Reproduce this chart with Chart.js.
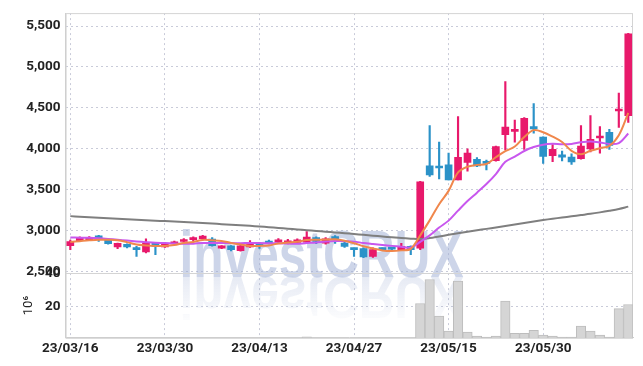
<!DOCTYPE html>
<html>
<head>
<meta charset="utf-8">
<script src="https://cdn.jsdelivr.net/npm/chart.js@4.4.0/dist/chart.umd.min.js"></script>
<style>
  html, body { margin: 0; padding: 0; background: #fff; }
  #wrap { width: 643px; height: 366px; }
</style>
</head>
<body>
<div id="wrap"><canvas id="myChart" width="643" height="366"></canvas></div>
<script>
// trading days shown on the chart
const dates = [
  '23/03/16', '23/03/17', '23/03/20', '23/03/21', '23/03/22', '23/03/23', '23/03/24', '23/03/27', '23/03/28', '23/03/29',
  '23/03/30', '23/03/31', '23/04/03', '23/04/04', '23/04/05', '23/04/06', '23/04/07', '23/04/10', '23/04/11', '23/04/12',
  '23/04/13', '23/04/14', '23/04/17', '23/04/18', '23/04/19', '23/04/20', '23/04/21', '23/04/24', '23/04/25', '23/04/26',
  '23/04/27', '23/04/28', '23/05/02', '23/05/03', '23/05/04', '23/05/08', '23/05/09', '23/05/10', '23/05/11', '23/05/12',
  '23/05/15', '23/05/16', '23/05/17', '23/05/18', '23/05/19', '23/05/22', '23/05/23', '23/05/24', '23/05/25', '23/05/26',
  '23/05/30', '23/05/31', '23/06/01', '23/06/02', '23/06/05', '23/06/07', '23/06/08', '23/06/09', '23/06/12', '23/06/13'
];

const opens = [
  2812, 2873, 2880, 2934, 2885, 2796, 2828, 2783, 2735, 2844,
  2796, 2836, 2864, 2885, 2897, 2893, 2783, 2812, 2752, 2796,
  2836, 2864, 2856, 2844, 2852, 2856, 2913, 2844, 2925, 2844,
  2776, 2776, 2682, 2776, 2776, 2764, 2805, 2783, 3790, 3770,
  3803, 3617, 3832, 3868, 3832, 3852, 4171, 4210, 4100, 4270,
  4140, 3913, 3925, 3897, 3877, 3997, 4130, 4200, 4460, 4403
];
const highs = [
  2880, 2920, 2925, 2940, 2895, 2845, 2835, 2805, 2896, 2850,
  2840, 2870, 2900, 2922, 2940, 2910, 2815, 2815, 2820, 2875,
  2852, 2880, 2900, 2890, 2895, 2985, 2920, 2910, 2935, 2855,
  2783, 2785, 2785, 2785, 2785, 2840, 2810, 3600, 4282, 4080,
  3945, 4391, 3997, 3890, 3860, 4030, 4820, 4350, 4380, 4552,
  4145, 4050, 3970, 3937, 4282, 4403, 4270, 4235, 4680, 5410
];
const lows = [
  2764, 2865, 2875, 2864, 2830, 2775, 2785, 2682, 2723, 2703,
  2790, 2830, 2855, 2875, 2885, 2805, 2775, 2747, 2745, 2790,
  2780, 2835, 2845, 2835, 2845, 2850, 2836, 2830, 2840, 2790,
  2682, 2665, 2670, 2755, 2755, 2755, 2703, 2764, 3661, 3628,
  3617, 3617, 3723, 3780, 3740, 3845, 3985, 4080, 3990, 4190,
  3820, 3840, 3848, 3808, 3870, 3960, 3945, 3990, 4260, 4320
];
const closes = [
  2864, 2913, 2913, 2893, 2836, 2840, 2796, 2764, 2844, 2804,
  2836, 2852, 2885, 2913, 2929, 2812, 2812, 2764, 2812, 2844,
  2816, 2844, 2885, 2873, 2885, 2917, 2864, 2897, 2885, 2804,
  2764, 2674, 2764, 2764, 2770, 2805, 2764, 3593, 3677, 3763,
  3617, 3892, 3945, 3787, 3820, 4026, 4262, 4230, 4370, 4240,
  3905, 3990, 3895, 3836, 4030, 4115, 4150, 4038, 4480, 5403
];

// moving average lines
const ma5 = [
  2858, 2868, 2878, 2885, 2884, 2879, 2856, 2826, 2816, 2810,
  2809, 2820, 2844, 2858, 2883, 2878, 2870, 2846, 2826, 2809,
  2810, 2816, 2840, 2852, 2861, 2881, 2885, 2887, 2890, 2873,
  2843, 2805, 2778, 2754, 2747, 2755, 2773, 2939, 3122, 3320,
  3483, 3708, 3779, 3801, 3812, 3894, 3968, 4025, 4142, 4226,
  4201, 4147, 4080, 3973, 3931, 3973, 4005, 4034, 4163, 4437
];
const ma10 = [
  2912, 2910, 2908, 2903, 2895, 2885, 2875, 2865, 2855, 2847,
  2844, 2838, 2835, 2837, 2846, 2844, 2845, 2845, 2842, 2846,
  2844, 2843, 2843, 2839, 2835, 2845, 2850, 2864, 2871, 2867,
  2862, 2845, 2833, 2822, 2810, 2799, 2789, 2859, 2938, 3034,
  3119, 3241, 3359, 3461, 3566, 3688, 3838, 3902, 3971, 4019,
  4048, 4058, 4053, 4057, 4078, 4087, 4076, 4057, 4068, 4184
];
const ma60 = [
  3174, 3167, 3160, 3153, 3147, 3141, 3135, 3129, 3123, 3118,
  3113, 3107, 3101, 3095, 3089, 3083, 3076, 3069, 3062, 3055,
  3047, 3038, 3029, 3020, 3011, 3002, 2993, 2984, 2975, 2965,
  2955, 2945, 2935, 2925, 2915, 2905, 2898, 2893, 2905, 2925,
  2945, 2964, 2982, 3000, 3018, 3036, 3054, 3072, 3090, 3108,
  3126, 3142, 3157, 3172, 3187, 3202, 3220, 3240, 3262, 3290
];

// volume in millions
const volume = [
  1.2, 0.9, 0.8, 0.9, 0.7, 0.8, 0.7, 1.0, 1.1, 0.9,
  0.7, 0.8, 0.9, 1.0, 1.1, 1.3, 0.8, 0.9, 0.8, 1.0,
  0.8, 0.7, 0.9, 0.8, 0.9, 2.2, 1.1, 1.0, 1.2, 0.9,
  1.0, 1.4, 1.1, 0.8, 0.7, 0.9, 1.0, 22.0, 36.3, 14.5,
  5.6, 35.3, 5.0, 2.6, 2.0, 2.6, 23.4, 4.2, 4.2, 6.0,
  3.2, 2.6, 2.0, 2.0, 8.5, 5.6, 3.2, 2.0, 19.0, 21.4
];

const priceTicks = [2500, 3000, 3500, 4000, 4500, 5000, 5500];
const volumeTicks = [20, 40];
const wmText = 'investCRUX';

const upColor = '#e8196b';
const downColor = '#2b92c8';
const candleColors = closes.map((c, i) => c >= opens[i] ? upColor : downColor);

const tickFont = { family: 'Roboto, sans-serif', size: 13.5, weight: 'bold' };
const gridColor = '#c9cbd9';

// big faint logo with its mirror image under it
const watermark = {
  id: 'watermark',
  beforeDatasetsDraw(chart) {
    const c = chart.ctx;
    const base = chart.scales.y.bottom + 4;
    c.save();
    c.font = 'bold 66px "Liberation Sans", sans-serif';
    const w = c.measureText(wmText).width;
    c.translate(chart.width / 2, base);
    c.scale(284 / w, 1);
    c.textAlign = 'center';
    c.textBaseline = 'alphabetic';
    c.fillStyle = 'rgba(160, 175, 212, 0.52)';
    c.fillText(wmText, 0, 0);
    c.scale(1, -0.9);
    const g = c.createLinearGradient(0, 0, 0, -46);
    g.addColorStop(0, 'rgba(160, 175, 212, 0.26)');
    g.addColorStop(1, 'rgba(160, 175, 212, 0.04)');
    c.fillStyle = g;
    c.fillText(wmText, 0, 0);
    c.restore();

    // frame round the plot and the line between the two panels
    const a = chart.chartArea;
    c.save();
    c.strokeStyle = '#d4d4d4';
    c.lineWidth = 1;
    c.strokeRect(a.left + 0.5, a.top + 0.5, a.right - a.left - 1, a.bottom - a.top);
    c.beginPath();
    c.moveTo(a.left, Math.round(chart.scales.y.bottom) + 0.5);
    c.lineTo(a.right, Math.round(chart.scales.y.bottom) + 0.5);
    c.stroke();
    c.restore();
  }
};

const ctx = document.getElementById('myChart').getContext('2d');

const myChart = new Chart(ctx, {
  type: 'bar',
  data: {
    labels: dates,
    datasets: [
      { type: 'line', label: 'MA5', data: ma5, borderColor: '#f0874c', borderWidth: 2, pointRadius: 0, tension: 0.35, yAxisID: 'y', order: 0 },
      { type: 'line', label: 'MA10', data: ma10, borderColor: '#c857ee', borderWidth: 2, pointRadius: 0, tension: 0.35, yAxisID: 'y', order: 0 },
      { type: 'line', label: 'MA60', data: ma60, borderColor: '#7f7f7f', borderWidth: 2, pointRadius: 0, tension: 0.35, yAxisID: 'y', order: 0 },
      {
        label: 'wick', data: highs.map((h, i) => [lows[i], h]),
        backgroundColor: candleColors, barThickness: 1.5, grouped: false, yAxisID: 'y', order: 2
      },
      {
        label: 'body', data: opens.map((o, i) => [o, closes[i]]),
        backgroundColor: candleColors, barThickness: 7, minBarLength: 2, grouped: false, yAxisID: 'y', order: 1
      },
      {
        label: 'volume', data: volume, backgroundColor: '#d5d5d5', borderColor: '#bdbdbd', borderWidth: 1,
        barPercentage: 1, categoryPercentage: 1, grouped: false, yAxisID: 'yv', order: 3
      }
    ]
  },
  options: {
    responsive: false,
    animation: false,
    layout: { padding: { left: 21, right: 10, top: 6, bottom: 6 } },
    plugins: { legend: { display: false }, tooltip: { enabled: false } },
    scales: {
      x: {
        type: 'category',
        offset: true,
        grid: { color: gridColor, offset: false, drawTicks: false },
        border: { color: '#cccccc', dash: [2, 3] },
        ticks: { font: tickFont, color: '#222', maxRotation: 0, autoSkip: false, padding: 3 },
        afterBuildTicks: (scale) => { scale.ticks = scale.ticks.filter(t => t.value % 10 === 0); }
      },
      yv: {
        type: 'linear',
        position: 'left',
        stack: 'panels',
        stackWeight: 65,
        weight: 1,
        min: 1.6,
        max: 40,
        afterBuildTicks: (scale) => { scale.ticks = volumeTicks.map(v => ({ value: v })); },
        grid: { color: gridColor, drawTicks: false },
        border: { color: '#cccccc', dash: [2, 3] },
        ticks: { font: tickFont, color: '#222', padding: 5 },
        title: { display: true, text: '10⁶', color: '#222', font: { family: 'Roboto, sans-serif', size: 13 }, padding: { top: 0, bottom: 3.5 } }
      },
      y: {
        type: 'linear',
        position: 'left',
        stack: 'panels',
        stackWeight: 262,
        weight: 2,
        min: 2475,
        max: 5658,
        afterBuildTicks: (scale) => { scale.ticks = priceTicks.map(v => ({ value: v })); },
        grid: { color: gridColor, drawTicks: false },
        border: { color: '#cccccc', dash: [2, 3] },
        ticks: { font: tickFont, color: '#222', padding: 5, callback: (v) => v.toLocaleString('en-US') }
      }
    }
  },
  plugins: [watermark]
});
</script>
</body>
</html>
